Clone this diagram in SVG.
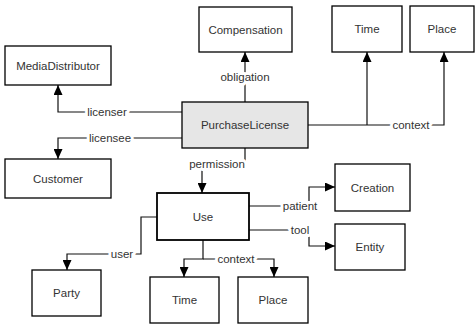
<svg xmlns="http://www.w3.org/2000/svg" width="475" height="324" viewBox="0 0 475 324">
<defs>
<marker id="arr" viewBox="0 0 10 9" refX="10" refY="4.5" markerWidth="10" markerHeight="9" markerUnits="userSpaceOnUse" orient="auto">
<path d="M0,0 L10,4.5 L0,9 z" fill="#000"/>
</marker>
<style>
.box{fill:#fff;stroke:#000;stroke-width:1.3}
.main{fill:#e6e6e6}
.t{font-family:"Liberation Sans",Arial,sans-serif;font-size:11.5px;fill:#333;text-anchor:middle;dominant-baseline:central}
.c{fill:none;stroke:#111;stroke-width:1.2}
.lbl{font-family:"Liberation Sans",Arial,sans-serif;font-size:11.5px;fill:#333;text-anchor:middle;dominant-baseline:central;stroke:#fff;stroke-width:6;paint-order:stroke;stroke-linejoin:round}
</style>
</defs>
<rect width="475" height="324" fill="#fff"/>
<g id="connectors">
<path class="c" d="M182,112 H58 V85" marker-end="url(#arr)"/>
<path class="c" d="M182,138 H58 V159" marker-end="url(#arr)"/>
<path class="c" d="M245,102 V52" marker-end="url(#arr)"/>
<path class="c" d="M308,125 H444 V52" marker-end="url(#arr)"/>
<path class="c" d="M367,125 V52" marker-end="url(#arr)"/>
<path class="c" d="M245,148 V164 H202 V193" marker-end="url(#arr)"/>
<path class="c" d="M249,206 H309 V187 H335" marker-end="url(#arr)"/>
<path class="c" d="M249,230 H309 V246 H335" marker-end="url(#arr)"/>
<path class="c" d="M157,217 H141 V254 H67 V270" marker-end="url(#arr)"/>
<path class="c" d="M203,240 V259 H184 V277" marker-end="url(#arr)"/>
<path class="c" d="M203,259 H274 V277" marker-end="url(#arr)"/>
<text class="lbl" x="107" y="112">licenser</text>
<text class="lbl" x="110" y="138">licensee</text>
<text class="lbl" x="245" y="77">obligation</text>
<text class="lbl" x="411" y="125">context</text>
<text class="lbl" x="217" y="164">permission</text>
<text class="lbl" x="300" y="206">patient</text>
<text class="lbl" x="300" y="230">tool</text>
<text class="lbl" x="122" y="254">user</text>
<text class="lbl" x="236" y="259">context</text>
</g>
<g id="MediaDistributor"><rect class="box" x="5" y="46" width="106" height="39"/><text class="t" x="58" y="65.5">MediaDistributor</text></g>
<g id="Customer"><rect class="box" x="5" y="159" width="106" height="39"/><text class="t" x="58" y="178.5">Customer</text></g>
<g id="Compensation"><rect class="box" x="199" y="7" width="93" height="45"/><text class="t" x="245.5" y="29.5">Compensation</text></g>
<g id="TimeTop"><rect class="box" x="332" y="6" width="70" height="46"/><text class="t" x="367" y="29">Time</text></g>
<g id="PlaceTop"><rect class="box" x="410" y="6" width="64" height="46"/><text class="t" x="442" y="29">Place</text></g>
<g id="PurchaseLicense"><rect class="box main" x="182" y="102" width="126" height="46"/><text class="t" x="245" y="125">PurchaseLicense</text></g>
<g id="Use"><rect class="box" x="157" y="193" width="92" height="47" style="stroke-width:1.8"/><text class="t" x="203" y="216.5">Use</text></g>
<g id="Creation"><rect class="box" x="335" y="164" width="75" height="47"/><text class="t" x="372.5" y="187.5">Creation</text></g>
<g id="Entity"><rect class="box" x="335" y="224" width="70" height="46"/><text class="t" x="370" y="247">Entity</text></g>
<g id="Party"><rect class="box" x="32" y="270" width="69" height="46"/><text class="t" x="66.5" y="293">Party</text></g>
<g id="TimeBottom"><rect class="box" x="150" y="277" width="69" height="46"/><text class="t" x="184.5" y="300">Time</text></g>
<g id="PlaceBottom"><rect class="box" x="238" y="277" width="70" height="46"/><text class="t" x="273" y="300">Place</text></g>
</svg>
